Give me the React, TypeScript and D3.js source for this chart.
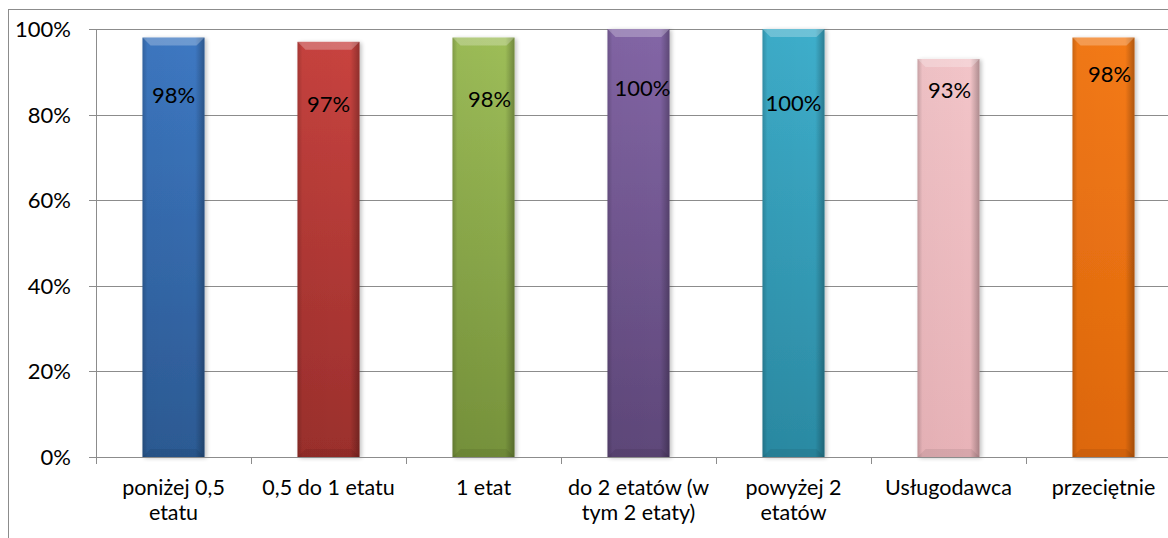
import React from "react";
import * as d3 from "d3";

const categories = [
  "poniżej 0,5\netatu",
  "0,5 do 1 etatu",
  "1 etat",
  "do 2 etatów (w\ntym 2 etaty)",
  "powyżej 2\netatów",
  "Usługodawca",
  "przeciętnie",
];
const values = [0.98, 0.97, 0.98, 1.0, 1.0, 0.93, 0.98];
const valueLabels = ["98%", "97%", "98%", "100%", "100%", "93%", "98%"];
const yTicks = [0, 0.2, 0.4, 0.6, 0.8, 1.0];

// colours (top, bottom) per bar
const barTop = ["#3d78c2", "#c8433f", "#9dbd58", "#8366a6", "#3eaecb", "#f2c4c8", "#f47a18"];
const barBottom = ["#2c5a93", "#9b2f2c", "#76923b", "#5e4779", "#2b8aa3", "#e8b3b8", "#e0690c"];

// manual label placement (px offsets from bar top / centre)
const labelDy = [58, 62, 62, 59, 74, 31, 37];
const labelDx = [0, 0, 6, 4, 0, 1, 6];

const W = 1168;
const H = 538;
const left = 96;
const bandW = 155;
const top = 29;
const bottom = 457;
const FONT = "Lato, 'Open Sans', sans-serif";
const GRID = "#8c8c8c";

export default function App() {
  const x = d3
    .scaleBand<string>()
    .domain(categories)
    .range([left, left + bandW * categories.length])
    .paddingInner(0.6)
    .paddingOuter(0.3);
  const y = d3.scaleLinear().domain([0, 1]).range([bottom, top]);
  const bw = x.bandwidth();
  const bev = 8;

  return (
    <svg
      width={W}
      height={H}
      style={{ position: "absolute", left: 0, top: 0, background: "#fff" }}
      fontFamily={FONT}
    >
      <defs>
        {categories.map((c, i) => (
          <linearGradient key={i} id={`vg${i}`} x1="0" y1="0" x2="0" y2="1">
            <stop offset="0" stopColor={barTop[i]} />
            <stop offset="1" stopColor={barBottom[i]} />
          </linearGradient>
        ))}
        <linearGradient id="hg" x1="0" y1="0" x2="1" y2="0">
          <stop offset="0" stopColor="#000" stopOpacity={0.18} />
          <stop offset="0.08" stopColor="#000" stopOpacity={0.02} />
          <stop offset="0.85" stopColor="#000" stopOpacity={0.0} />
          <stop offset="1" stopColor="#000" stopOpacity={0.28} />
        </linearGradient>
        <filter id="sh" x="-20%" y="-5%" width="150%" height="110%">
          <feGaussianBlur in="SourceAlpha" stdDeviation="2" />
          <feOffset dx="2" dy="1" result="b" />
          <feComponentTransfer>
            <feFuncA type="linear" slope="0.25" />
          </feComponentTransfer>
          <feMerge>
            <feMergeNode />
            <feMergeNode in="SourceGraphic" />
          </feMerge>
        </filter>
      </defs>

      {/* outer border */}
      <rect x={8.5} y={9.5} width={W + 20} height={H + 20} fill="none" stroke={GRID} strokeWidth={1} />

      {/* gridlines + y ticks */}
      {yTicks.map((t) => (
        <g key={t}>
          <line x1={89} x2={W} y1={Math.round(y(t)) + 0.5} y2={Math.round(y(t)) + 0.5} stroke={GRID} strokeWidth={1} />
          <text x={71} y={y(t)} dy="0.36em" textAnchor="end" fontSize={22} fill="#000">
            {d3.format(".0%")(t)}
          </text>
        </g>
      ))}
      {/* y axis line */}
      <line x1={left + 0.5} x2={left + 0.5} y1={top} y2={bottom} stroke={GRID} strokeWidth={1} />

      {/* bars */}
      {categories.map((c, i) => {
        const bx = x(c)!;
        const by = y(values[i]);
        const bh = bottom - by;
        return (
          <g key={c}>
            <g filter="url(#sh)">
              <rect x={bx} y={by} width={bw} height={bh} fill={`url(#vg${i})`} />
            </g>
            <rect x={bx} y={by} width={bw} height={bh} fill="url(#hg)" />
            <polygon
              points={`${bx},${by} ${bx + bw},${by} ${bx + bw - bev},${by + bev} ${bx + bev},${by + bev}`}
              fill="#fff"
              opacity={0.25}
            />
            <polygon
              points={`${bx},${bottom} ${bx + bw},${bottom} ${bx + bw - bev},${bottom - bev} ${bx + bev},${bottom - bev}`}
              fill="#000"
              opacity={0.07}
            />
          </g>
        );
      })}

      {/* x axis */}
      <line x1={left} x2={W} y1={bottom + 0.5} y2={bottom + 0.5} stroke={GRID} strokeWidth={1} />
      {d3.range(categories.length + 1).map((k) => (
        <line
          key={k}
          x1={left + k * bandW + 0.5}
          x2={left + k * bandW + 0.5}
          y1={bottom}
          y2={bottom + 7}
          stroke={GRID}
          strokeWidth={1}
        />
      ))}

      {/* value labels */}
      {categories.map((c, i) => (
        <text
          key={c}
          x={x(c)! + bw / 2 + labelDx[i]}
          y={y(values[i]) + labelDy[i]}
          dy="0.36em"
          textAnchor="middle"
          fontSize={22}
          fill="#000"
        >
          {valueLabels[i]}
        </text>
      ))}

      {/* category labels */}
      {categories.map((c) => {
        const lines = c.split("\n");
        const cx = x(c)! + bw / 2;
        return (
          <text key={c} x={cx} textAnchor="middle" fontSize={21.5} fill="#000">
            {lines.map((l, j) => (
              <tspan key={j} x={cx} y={487 + j * 25} dy="0.36em">
                {l}
              </tspan>
            ))}
          </text>
        );
      })}
    </svg>
  );
}
